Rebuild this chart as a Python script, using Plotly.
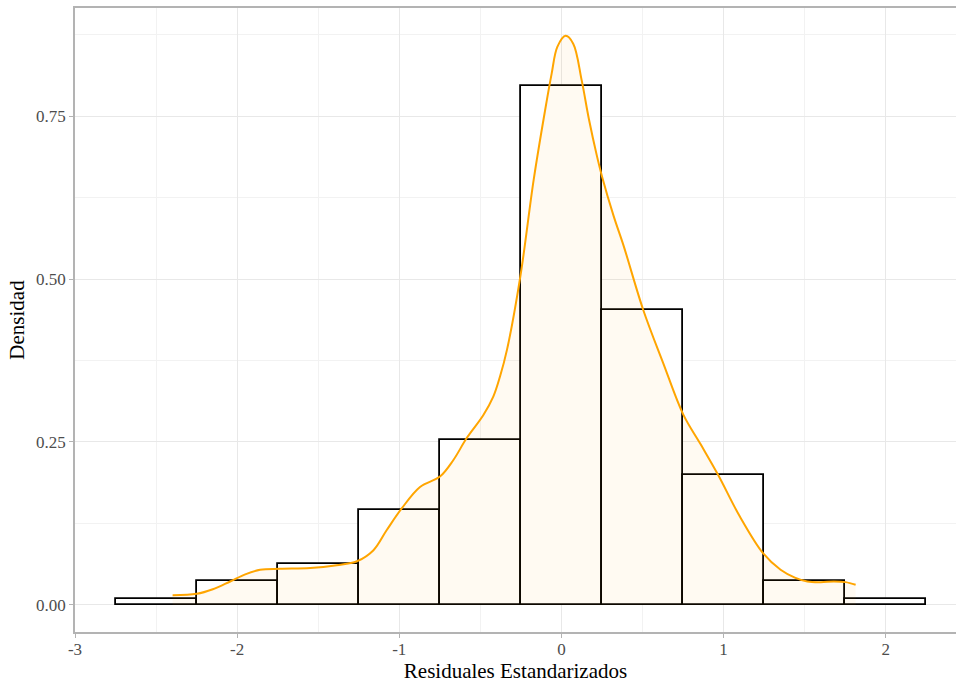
import plotly.graph_objects as go

# Histogram (density scale), bins of width 0.5
bin_centers = [-2.5, -2.0, -1.5, -1.0, -0.5, 0.0, 0.5, 1.0, 1.5, 2.0]
bin_density = [0.009, 0.036, 0.063, 0.145, 0.253, 0.796, 0.452, 0.199, 0.036, 0.009]
bin_width = 0.5

# Kernel density curve
dens_x = [-2.398, -2.249, -2.15, -2.043, -1.95, -1.858, -1.735, -1.549, -1.385, -1.261,
          -1.159, -1.077, -0.985, -0.872, -0.749, -0.667, -0.584, -0.482, -0.420, -0.379,
          -0.335, -0.253, -0.171, -0.101, -0.060, -0.025, 0.026, 0.073, 0.125, 0.170,
          0.218, 0.251, 0.323, 0.385, 0.505, 0.628, 0.752, 0.860, 0.968,
          1.100, 1.245, 1.352, 1.440, 1.517, 1.600, 1.681, 1.753, 1.815]
dens_y = [0.015, 0.017, 0.024, 0.036, 0.047, 0.054, 0.0555, 0.0565, 0.061, 0.067,
          0.084, 0.115, 0.148, 0.181, 0.197, 0.222, 0.256, 0.291, 0.3195, 0.350,
          0.392, 0.504, 0.652, 0.758, 0.815, 0.856, 0.873, 0.861, 0.805, 0.745,
          0.690, 0.657, 0.596, 0.550, 0.4525, 0.371, 0.292, 0.246, 0.199,
          0.136, 0.079, 0.054, 0.042, 0.036, 0.035, 0.036, 0.035, 0.031]

x_ticks = [-3, -2, -1, 0, 1, 2]
x_tick_labels = ["-3", "-2", "-1", "0", "1", "2"]
y_ticks = [0.0, 0.25, 0.5, 0.75]
y_tick_labels = ["0.00", "0.25", "0.50", "0.75"]

FONT = "Liberation Serif, Times New Roman, serif"
GRID = "#e8e8e8"
MINOR_GRID = "#f2f2f2"
BORDER = "#b3b3b3"

fig = go.Figure()
fig.add_trace(go.Bar(
    x=bin_centers, y=bin_density, width=bin_width,
    marker=dict(color="white", line=dict(color="black", width=1.8)),
    hoverinfo="skip", showlegend=False,
))
fig.add_trace(go.Scatter(
    x=dens_x, y=dens_y, mode="lines",
    line=dict(color="#FFA500", width=2, shape="spline", smoothing=1.0),
    fill="tozeroy", fillcolor="rgba(255,165,0,0.05)",
    hoverinfo="skip", showlegend=False,
))

fig.update_layout(
    width=956, height=683,
    margin=dict(l=75, r=0, t=8, b=51),
    paper_bgcolor="white", plot_bgcolor="white",
    font=dict(family=FONT, color="#4d4d4d", size=17),
    bargap=0,
)
fig.update_xaxes(
    range=[-3.0, 2.434],
    tickvals=x_ticks, ticktext=x_tick_labels,
    showgrid=True, gridcolor=GRID, gridwidth=1,
    minor=dict(tickmode="array", tickvals=[-2.5, -1.5, -0.5, 0.5, 1.5],
               showgrid=True, gridcolor=MINOR_GRID, gridwidth=1, ticks=""),
    zeroline=False,
    showline=True, linecolor=BORDER, linewidth=1.5, mirror=True,
    ticks="outside", ticklen=4, tickcolor=BORDER, tickwidth=1,
    ticklabelstandoff=-3,
    tickfont=dict(family=FONT, size=17, color="#4d4d4d"),
    title=dict(text="Residuales Estandarizados", standoff=4,
               font=dict(family=FONT, size=21, color="black")),
    automargin=False,
)
fig.update_yaxes(
    range=[-0.0415, 0.9157],
    tickvals=y_ticks, ticktext=y_tick_labels,
    showgrid=True, gridcolor=GRID, gridwidth=1,
    minor=dict(tickmode="array", tickvals=[0.125, 0.375, 0.625, 0.875],
               showgrid=True, gridcolor=MINOR_GRID, gridwidth=1, ticks=""),
    zeroline=False,
    showline=True, linecolor=BORDER, linewidth=1.5, mirror=False,
    ticks="outside", ticklen=4, tickcolor=BORDER, tickwidth=1,
    tickfont=dict(family=FONT, size=17, color="#4d4d4d"),
    title=dict(text="Densidad", standoff=6,
               font=dict(family=FONT, size=21, color="black")),
    automargin=False,
)

# remove the default page margin so the figure fills the window exactly
fig.write_html(
    "out.html",
    config={"displayModeBar": False},
    post_script="document.body.style.margin='0';"
                "document.documentElement.style.overflow='hidden';",
)
